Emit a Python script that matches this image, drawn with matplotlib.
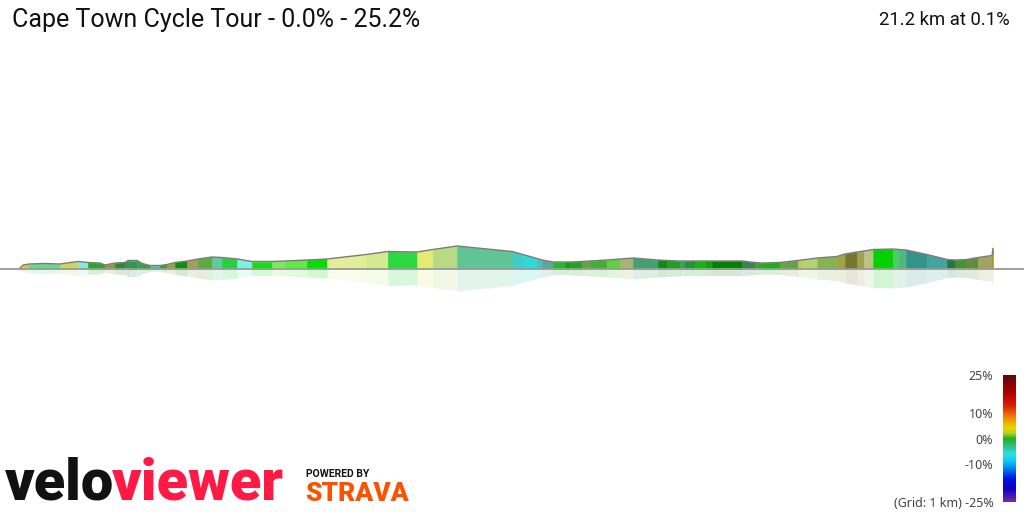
import numpy as np
import matplotlib.pyplot as plt
from matplotlib.colors import LinearSegmentedColormap

# -----------------------------
# 1. Data
# -----------------------------
title = "Cape Town Cycle Tour - 0.0% - 25.2%"
summary = "21.2 km at 0.1%"

# distance along the route (km) and elevation above the lowest point (m)
dist_km = [0.00, 0.08, 0.21, 0.56, 0.88, 1.27, 1.49, 1.75, 1.86, 2.08,
           2.30, 2.36, 2.56, 2.67, 2.84, 3.06, 3.21, 3.39, 3.65, 3.89,
           4.19, 4.41, 4.74, 5.06, 5.50, 5.78, 6.26, 6.70, 7.55, 8.02,
           8.66, 9.00, 9.53, 10.73, 10.96, 11.27, 11.38, 11.62, 11.88, 11.99,
           12.25, 12.42, 12.79, 13.08, 13.36, 13.90, 14.10, 14.38, 14.49, 14.71,
           14.93, 15.08, 15.73, 16.02, 16.17, 16.56, 16.95, 17.04, 17.37, 17.80,
           17.98, 18.24, 18.39, 18.59, 19.02, 19.15, 19.31, 19.76, 20.20, 20.37,
           20.63, 20.74, 20.87, 21.18, 21.20]
elev_m = [0, 7, 9, 10, 9, 14, 12, 11, 7, 11,
          12, 16, 16, 10, 6, 6, 8, 12, 15, 19,
          23, 22, 19, 14, 14, 15, 17, 19, 28, 34,
          33, 38, 45, 34, 28, 20, 17, 13, 13, 13,
          14, 15, 17, 19, 21, 17, 16, 15, 15, 15,
          15, 15, 15, 12, 11, 12, 16, 17, 21, 24,
          29, 33, 35, 38, 39, 38, 37, 28, 18, 17,
          18, 20, 22, 26, 40]

# colour of each section (between two consecutive points)
seg_colors = ["#d8c848", "#d8c848", "#5fdc8c", "#5fdc8c", "#cfd45c", "#86ead8",
              "#22a82a", "#3e9a34", "#8c9a3c", "#2a8a30", "#3a8a70", "#2f9a4a",
              "#3aa050", "#30a030", "#50b8a0", "#30a030", "#a0a040", "#0a900a",
              "#a0a05c", "#5caa40", "#5ccc98", "#28d040", "#80f0e0", "#12e012",
              "#80e860", "#62e848", "#00e000", "#e2ee98", "#d2ea90", "#2ed840",
              "#e2ec74", "#b8da84", "#60c496", "#44cac4", "#30d8d8", "#48c4c0",
              "#64a494", "#20be20", "#10a010", "#22a422", "#64a444", "#40b030",
              "#60d044", "#aab274", "#44a272", "#108a10", "#20a020", "#34a454",
              "#24922e", "#10b810", "#10a010", "#048004", "#348454", "#40a030",
              "#14b414", "#64a444", "#c4c464", "#b2d474", "#84b454", "#a2a244",
              "#767632", "#a0a250", "#bac484", "#04d004", "#44d064", "#54b484",
              "#329488", "#44a4a0", "#247444", "#449234", "#748444", "#549434",
              "#a2a464", "#a09020"]

# gradient scale
grade_ticks = [25, 10, 0, -10, -25]
grade_labels = ["25%", "10%", "0%", "-10%", "(Grid: 1 km) -25%"]
grade_stops = [-25, -20, -16, -12, -9, -6, -3, 0, 2, 4, 7, 10, 13, 18, 25]
grade_cols = ["#7030a0", "#1000c0", "#0010e0", "#0080f0", "#10c8f0", "#30e0e0",
              "#30c080", "#20b020", "#b0d020", "#e8d800", "#f0a000", "#e86010",
              "#d82000", "#b00000", "#5a0a0a"]

# -----------------------------
# 2. Figure
# -----------------------------
fig = plt.figure(figsize=(10.24, 5.12), dpi=100)
ax = fig.add_axes([0, 0, 1, 1])
ax.set_xlim(-0.425, 21.875)
ax.set_ylim(-487, 537)
ax.axis("off")

x = np.array(dist_km)
y = np.array(elev_m)
for i, c in enumerate(seg_colors):
    ax.fill_between(x[i:i + 2], y[i:i + 2], 0, color=c, lw=0.4, zorder=2)
    # reflection below the axis
    ax.fill_between(x[i:i + 2], 0, -y[i:i + 2], color=c, alpha=0.18, lw=0, zorder=1)
ax.plot(x, y, color="#7a7a7a", lw=1.0, zorder=3)
ax.axhline(0, color="#9a9a9a", lw=1.3, zorder=4)

# -----------------------------
# 3. Texts
# -----------------------------
fig.text(12 / 1024, 1 - 20 / 512, title, family="Roboto", fontsize=18,
         color="#111111", va="center", ha="left")
fig.text(1010 / 1024, 1 - 20 / 512, summary, family="Roboto", fontsize=13.3,
         color="#111111", va="center", ha="right")

# logo
velo = fig.text(5 / 1024, 12 / 512, "velo", family="Roboto", fontweight="black",
                fontsize=41.5, color="#111111", va="baseline", ha="left")
fig.canvas.draw()
bb = velo.get_window_extent()
fig.text(bb.x1 / 1024 - 0.002, 12 / 512, "viewer", family="Roboto", fontweight="black",
         fontsize=41.5, color="#ff1a45", va="baseline", ha="left")
fig.text(306 / 1024, 1 - 474 / 512, "POWERED BY", family="Roboto",
         fontweight="bold", fontsize=7.5, color="#111111", va="center", ha="left")
fig.text(305 / 1024, 1 - 501 / 512, "STRAVA", family="Roboto", fontweight="black",
         fontsize=19, color="#fc5200", va="baseline", ha="left")

# -----------------------------
# 4. Colour scale
# -----------------------------
cmap = LinearSegmentedColormap.from_list(
    "grade", [((g + 25) / 50, c) for g, c in zip(grade_stops, grade_cols)])
cax = fig.add_axes([1003 / 1024, 10 / 512, 13 / 1024, 127 / 512])
cax.imshow(np.linspace(25, -25, 256).reshape(-1, 1), aspect="auto", cmap=cmap,
           vmin=-25, vmax=25, extent=[0, 1, -25, 25])
cax.set_xticks([])
cax.set_yticks(grade_ticks)
cax.set_yticklabels(grade_labels, family="Noto Sans", fontsize=9, color="#444444")
cax.tick_params(axis="y", length=0, pad=7)
for s in cax.spines.values():
    s.set_visible(False)

fig.savefig("out.png", dpi=100)
